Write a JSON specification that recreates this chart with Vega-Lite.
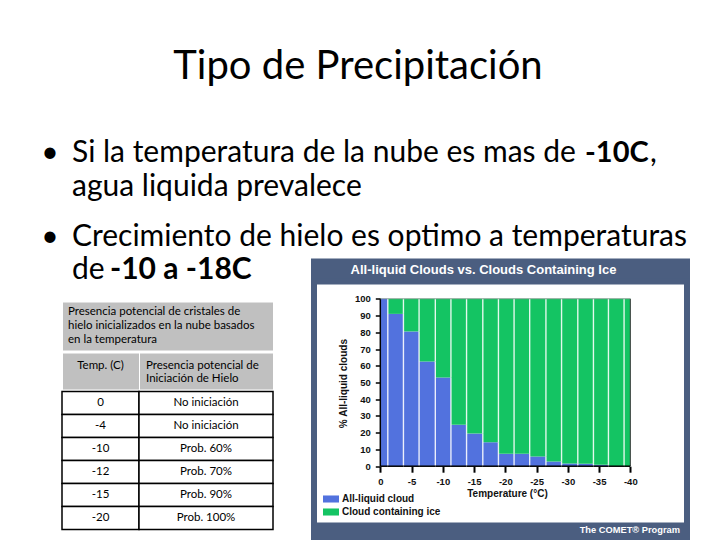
{
  "$schema": "https://vega.github.io/schema/vega-lite/v6.json",
  "padding": 0,
  "background": "white",
  "bounds": "flush",
  "spacing": 12.5,
  "config": {"view": {"stroke": null}, "text": {"font": "Lato", "fill": "black"}},
  "datasets": {
    "slide": [
      {"slot": "t", "part": "title", "txt": "Tipo de Precipitación"},
      {"slot": "b1", "part": "bullet", "txt": "•"},
      {"slot": "b2", "part": "bullet", "txt": "•"},
      {"slot": "b1", "part": "body", "txt": "Si la temperatura de la nube es mas de\nagua liquida prevalece"},
      {"slot": "b2", "part": "body", "txt": "Crecimiento de hielo es optimo a temperaturas\nde"},
      {"slot": "b1", "part": "bold", "txt": "-10C"},
      {"slot": "b1", "part": "comma", "txt": ","},
      {"slot": "b2", "part": "bold2", "txt": "-10 a -18C"}
    ],
    "table": [
      {"temp": "0", "pres": "No iniciación"},
      {"temp": "-4", "pres": "No iniciación"},
      {"temp": "-10", "pres": "Prob. 60%"},
      {"temp": "-12", "pres": "Prob. 70%"},
      {"temp": "-15", "pres": "Prob. 90%"},
      {"temp": "-20", "pres": "Prob. 100%"}
    ],
    "bars": [
      {"t0": 0, "t1": -1.2, "cloud": "All-liquid cloud", "lo": 0, "hi": 100},
      {"t0": 0, "t1": -1.2, "cloud": "Cloud containing ice", "lo": 100, "hi": 100},
      {"t0": -1.2, "t1": -3.7, "cloud": "All-liquid cloud", "lo": 0, "hi": 91},
      {"t0": -1.2, "t1": -3.7, "cloud": "Cloud containing ice", "lo": 91, "hi": 100},
      {"t0": -3.7, "t1": -6.2, "cloud": "All-liquid cloud", "lo": 0, "hi": 80.5},
      {"t0": -3.7, "t1": -6.2, "cloud": "Cloud containing ice", "lo": 80.5, "hi": 100},
      {"t0": -6.2, "t1": -8.8, "cloud": "All-liquid cloud", "lo": 0, "hi": 62.5},
      {"t0": -6.2, "t1": -8.8, "cloud": "Cloud containing ice", "lo": 62.5, "hi": 100},
      {"t0": -8.8, "t1": -11.3, "cloud": "All-liquid cloud", "lo": 0, "hi": 53},
      {"t0": -8.8, "t1": -11.3, "cloud": "Cloud containing ice", "lo": 53, "hi": 100},
      {"t0": -11.3, "t1": -13.8, "cloud": "All-liquid cloud", "lo": 0, "hi": 24.7},
      {"t0": -11.3, "t1": -13.8, "cloud": "Cloud containing ice", "lo": 24.7, "hi": 100},
      {"t0": -13.8, "t1": -16.4, "cloud": "All-liquid cloud", "lo": 0, "hi": 19.5},
      {"t0": -13.8, "t1": -16.4, "cloud": "Cloud containing ice", "lo": 19.5, "hi": 100},
      {"t0": -16.4, "t1": -18.9, "cloud": "All-liquid cloud", "lo": 0, "hi": 14.3},
      {"t0": -16.4, "t1": -18.9, "cloud": "Cloud containing ice", "lo": 14.3, "hi": 100},
      {"t0": -18.9, "t1": -21.4, "cloud": "All-liquid cloud", "lo": 0, "hi": 7.4},
      {"t0": -18.9, "t1": -21.4, "cloud": "Cloud containing ice", "lo": 7.4, "hi": 100},
      {"t0": -21.4, "t1": -23.9, "cloud": "All-liquid cloud", "lo": 0, "hi": 7.4},
      {"t0": -21.4, "t1": -23.9, "cloud": "Cloud containing ice", "lo": 7.4, "hi": 100},
      {"t0": -23.9, "t1": -26.5, "cloud": "All-liquid cloud", "lo": 0, "hi": 5.8},
      {"t0": -23.9, "t1": -26.5, "cloud": "Cloud containing ice", "lo": 5.8, "hi": 100},
      {"t0": -26.5, "t1": -29.0, "cloud": "All-liquid cloud", "lo": 0, "hi": 2.8},
      {"t0": -26.5, "t1": -29.0, "cloud": "Cloud containing ice", "lo": 2.8, "hi": 100},
      {"t0": -29.0, "t1": -31.6, "cloud": "All-liquid cloud", "lo": 0, "hi": 1.6},
      {"t0": -29.0, "t1": -31.6, "cloud": "Cloud containing ice", "lo": 1.6, "hi": 100},
      {"t0": -31.6, "t1": -34.1, "cloud": "All-liquid cloud", "lo": 0, "hi": 1.4},
      {"t0": -31.6, "t1": -34.1, "cloud": "Cloud containing ice", "lo": 1.4, "hi": 100},
      {"t0": -34.1, "t1": -36.5, "cloud": "All-liquid cloud", "lo": 0, "hi": 0.8},
      {"t0": -34.1, "t1": -36.5, "cloud": "Cloud containing ice", "lo": 0.8, "hi": 100},
      {"t0": -36.5, "t1": -39.0, "cloud": "All-liquid cloud", "lo": 0, "hi": 0},
      {"t0": -36.5, "t1": -39.0, "cloud": "Cloud containing ice", "lo": 0, "hi": 100},
      {"t0": -39.0, "t1": -40, "cloud": "All-liquid cloud", "lo": 0, "hi": 0},
      {"t0": -39.0, "t1": -40, "cloud": "Cloud containing ice", "lo": 0, "hi": 100}
    ],
    "chartTitle": [{"t": "All-liquid Clouds vs. Clouds Containing Ice"}],
    "footer": [{"t": "The COMET® Program"}],
    "h1": [{"t": "Presencia potencial de cristales de\nhielo inicializados en la nube basados\nen la temperatura"}],
    "h2": [{"c1": "Temp. (C)", "c2a": "Presencia potencial de", "c2b": "Iniciación de Hielo"}],
    "blank": [{"t": ""}]
  },
  "vconcat": [
    {
      "width": 720,
      "height": 245.5,
      "data": {"name": "slide"},
      "encoding": {
        "y": {"field": "slot", "type": "ordinal", "scale": {"type": "point", "domain": ["t", "b1", "b2"], "padding": 0.478, "align": 1}, "axis": null},
        "text": {"field": "txt", "type": "nominal"}
      },
      "layer": [
        {"transform": [{"filter": "datum.part == 'title'"}], "mark": {"type": "text", "font": "Lato", "fontSize": 40, "align": "center", "baseline": "alphabetic", "dx": -2}},
        {"transform": [{"filter": "datum.part == 'bullet'"}], "mark": {"type": "text", "font": "Lato", "fontSize": 30, "align": "center", "baseline": "alphabetic", "dx": -310}},
        {"transform": [{"filter": "datum.part == 'body'"}], "mark": {"type": "text", "font": "Lato", "fontSize": 30, "align": "left", "baseline": "alphabetic", "dx": -288, "lineBreak": "\n", "lineHeight": 33.5}},
        {"transform": [{"filter": "datum.part == 'bold'"}], "mark": {"type": "text", "font": "Lato", "fontSize": 29, "fontWeight": "bold", "align": "left", "baseline": "alphabetic", "dx": 225}},
        {"transform": [{"filter": "datum.part == 'comma'"}], "mark": {"type": "text", "font": "Lato", "fontSize": 30, "align": "left", "baseline": "alphabetic", "dx": 290}},
        {"transform": [{"filter": "datum.part == 'bold2'"}], "mark": {"type": "text", "font": "Lato", "fontSize": 30, "fontWeight": "bold", "align": "left", "baseline": "alphabetic", "dx": -250, "dy": 33.5}}
      ]
    },
    {
      "spacing": 0,
      "bounds": "full",
      "hconcat": [
        {"width": 61, "height": 1, "data": {"name": "blank"}, "mark": {"type": "text"}, "encoding": {"text": {"field": "t", "type": "nominal"}}},
        {
          "spacing": 0,
          "bounds": "full",
          "vconcat": [
            {"width": 211, "height": 42, "data": {"name": "blank"}, "mark": {"type": "text"}, "encoding": {"text": {"field": "t", "type": "nominal"}}},
            {
              "width": 211, "height": 49,
              "view": {"fill": "#c0c0c0", "stroke": "#ffffff", "strokeWidth": 1},
              "data": {"name": "h1"},
              "mark": {"type": "text", "font": "Lato", "align": "left", "baseline": "middle", "lineBreak": "\n", "lineHeight": 14, "fontSize": 11.5, "dx": -99.5, "dy": -14},
              "encoding": {"text": {"field": "t", "type": "nominal"}}
            },
            {
              "spacing": 0,
              "bounds": "flush",
              "hconcat": [
                {
                  "width": 77, "height": 37,
                  "view": {"fill": "#c0c0c0", "stroke": "#ffffff", "strokeWidth": 1},
                  "data": {"name": "h2"},
                  "mark": {"type": "text", "font": "Lato", "align": "center", "baseline": "middle", "fontSize": 11.5, "dy": -5.5},
                  "encoding": {"text": {"field": "c1", "type": "nominal"}}
                },
                {
                  "width": 134, "height": 37,
                  "view": {"fill": "#c0c0c0", "stroke": "#ffffff", "strokeWidth": 1},
                  "data": {"name": "h2"},
                  "layer": [
                    {"mark": {"type": "text", "font": "Lato", "align": "left", "baseline": "middle", "fontSize": 11.5, "dx": -60, "dy": -5.5}, "encoding": {"text": {"field": "c2a", "type": "nominal"}}},
                    {"mark": {"type": "text", "font": "Lato", "align": "left", "baseline": "middle", "fontSize": 11.5, "dx": -60, "dy": 7.5}, "encoding": {"text": {"field": "c2b", "type": "nominal"}}}
                  ]
                }
              ]
            },
            {
              "spacing": 0,
              "bounds": "flush",
              "hconcat": [
                {
                  "width": 77, "height": 138,
                  "data": {"name": "table"},
                  "encoding": {"y": {"field": "temp", "type": "nominal", "sort": null, "scale": {"paddingInner": 0, "paddingOuter": 0}, "axis": null}},
                  "layer": [
                    {"mark": {"type": "bar", "fill": "white", "stroke": "black", "strokeWidth": 1.5}},
                    {"mark": {"type": "text", "font": "Lato", "fontSize": 11.5, "baseline": "middle"}, "encoding": {"text": {"field": "temp", "type": "nominal"}}}
                  ]
                },
                {
                  "width": 134, "height": 138,
                  "data": {"name": "table"},
                  "encoding": {"y": {"field": "temp", "type": "nominal", "sort": null, "scale": {"paddingInner": 0, "paddingOuter": 0}, "axis": null}},
                  "layer": [
                    {"mark": {"type": "bar", "fill": "white", "stroke": "black", "strokeWidth": 1.5}},
                    {"mark": {"type": "text", "font": "Lato", "fontSize": 11.5, "baseline": "middle"}, "encoding": {"text": {"field": "pres", "type": "nominal"}}}
                  ]
                }
              ]
            }
          ]
        },
        {"width": 36.5, "height": 1, "data": {"name": "blank"}, "mark": {"type": "text"}, "encoding": {"text": {"field": "t", "type": "nominal"}}},
        {
          "spacing": 0,
          "bounds": "flush",
          "center": true,
          "vconcat": [
            {
              "width": 379, "height": 23,
              "view": {"fill": "#4b5e80", "stroke": null},
              "data": {"name": "chartTitle"},
              "mark": {"type": "text", "fill": "white", "font": "Liberation Sans", "fontWeight": "bold", "fontSize": 13, "align": "center", "baseline": "middle", "dx": -17},
              "encoding": {"text": {"field": "t", "type": "nominal"}}
            },
            {
              "width": 373, "height": 244,
              "view": {"fill": "white", "stroke": "#4b5e80", "strokeWidth": 6},
              "data": {"name": "bars"},
              "encoding": {
                "x": {"field": "t0", "type": "quantitative", "scale": {"domain": [10.61, -49.07], "nice": false, "zero": false},
                  "axis": {"values": [0, -5, -10, -15, -20, -25, -30, -35, -40], "offset": -59.3, "domain": false, "grid": false, "ticks": true, "tickSize": 6, "tickWidth": 2, "tickColor": "black",
                    "labelExpr": "datum.value == 0 ? '0' : '-' + abs(datum.value)", "labelFont": "Liberation Sans", "labelFontSize": 9.5, "labelFontWeight": "bold", "labelColor": "#111", "labelPadding": 4,
                    "title": "Temperature (°C)", "titleFont": "Liberation Sans", "titleFontSize": 10, "titleFontWeight": "bold", "titleColor": "#111", "titlePadding": 3, "titleX": 193}},
                "y": {"field": "lo", "type": "quantitative", "scale": {"domain": [-35.42, 110.33], "nice": false, "zero": false},
                  "axis": {"values": [0, 10, 20, 30, 40, 50, 60, 70, 80, 90, 100], "offset": -66.3, "domain": false, "grid": false, "ticks": true, "tickSize": 5, "tickWidth": 1.5, "tickColor": "black",
                    "labelFont": "Liberation Sans", "labelFontSize": 9.5, "labelFontWeight": "bold", "labelColor": "#111", "labelPadding": 5,
                    "title": "% All-liquid clouds", "titleFont": "Liberation Sans", "titleFontSize": 10, "titleFontWeight": "bold", "titleColor": "#111", "titlePadding": 6, "titleY": 101.6}}
              },
              "layer": [
                {
                  "mark": {"type": "rect"},
                  "encoding": {
                    "x2": {"field": "t1"},
                    "y2": {"field": "hi"},
                    "color": {"field": "cloud", "type": "nominal",
                      "scale": {"domain": ["All-liquid cloud", "Cloud containing ice"], "range": ["#5272de", "#14c463"]},
                      "legend": {"orient": "none", "legendX": 323, "legendY": 491, "title": null, "symbolType": "M-1,-0.44H1V0.44H-1Z", "symbolSize": 256, "symbolStrokeWidth": 0, "symbolOpacity": 1,
                        "labelFont": "Liberation Sans", "labelFontSize": 10, "labelFontWeight": "bold", "labelColor": "#111", "labelOffset": 3, "rowPadding": 0, "padding": 0}}
                  }
                },
                {
                  "transform": [{"filter": "datum.t1 > -40"}],
                  "mark": {"type": "rule", "color": "white", "strokeWidth": 1.4, "opacity": 0.85},
                  "encoding": {
                    "x": {"field": "t1", "type": "quantitative", "scale": {"domain": [10.61, -49.07], "nice": false, "zero": false},
                      "axis": {"values": [0, -5, -10, -15, -20, -25, -30, -35, -40], "offset": -59.3, "domain": false, "grid": false, "ticks": true, "tickSize": 6, "tickWidth": 2, "tickColor": "black",
                        "labelExpr": "datum.value == 0 ? '0' : '-' + abs(datum.value)", "labelFont": "Liberation Sans", "labelFontSize": 9.5, "labelFontWeight": "bold", "labelColor": "#111", "labelPadding": 4,
                        "title": "Temperature (°C)", "titleFont": "Liberation Sans", "titleFontSize": 10, "titleFontWeight": "bold", "titleColor": "#111", "titlePadding": 3, "titleX": 193}},
                    "y2": {"field": "hi"}
                  }
                },
                {
                  "transform": [{"filter": "datum.t0 == 0"}],
                  "mark": {"type": "rule", "color": "black", "strokeWidth": 1.5},
                  "encoding": {"y2": {"field": "hi"}}
                },
                {
                  "transform": [{"filter": "datum.t1 == -40"}],
                  "mark": {"type": "rule", "color": "#333333", "strokeWidth": 1},
                  "encoding": {
                    "x": {"field": "t1", "type": "quantitative", "scale": {"domain": [10.61, -49.07], "nice": false, "zero": false},
                      "axis": {"values": [0, -5, -10, -15, -20, -25, -30, -35, -40], "offset": -59.3, "domain": false, "grid": false, "ticks": true, "tickSize": 6, "tickWidth": 2, "tickColor": "black",
                        "labelExpr": "datum.value == 0 ? '0' : '-' + abs(datum.value)", "labelFont": "Liberation Sans", "labelFontSize": 9.5, "labelFontWeight": "bold", "labelColor": "#111", "labelPadding": 4,
                        "title": "Temperature (°C)", "titleFont": "Liberation Sans", "titleFontSize": 10, "titleFontWeight": "bold", "titleColor": "#111", "titlePadding": 3, "titleX": 193}},
                    "y2": {"field": "hi"}
                  }
                },
                {
                  "transform": [{"filter": "datum.cloud == 'All-liquid cloud'"}],
                  "mark": {"type": "rule", "color": "black", "strokeWidth": 1.5},
                  "encoding": {"x2": {"field": "t1"}}
                },
                {
                  "transform": [{"filter": "datum.cloud == 'Cloud containing ice'"}],
                  "mark": {"type": "rule", "color": "#7a8a80", "strokeWidth": 0.8},
                  "encoding": {
                    "y": {"field": "hi", "type": "quantitative", "scale": {"domain": [-35.42, 110.33], "nice": false, "zero": false},
                      "axis": {"values": [0, 10, 20, 30, 40, 50, 60, 70, 80, 90, 100], "offset": -66.3, "domain": false, "grid": false, "ticks": true, "tickSize": 5, "tickWidth": 1.5, "tickColor": "black",
                        "labelFont": "Liberation Sans", "labelFontSize": 9.5, "labelFontWeight": "bold", "labelColor": "#111", "labelPadding": 5,
                        "title": "% All-liquid clouds", "titleFont": "Liberation Sans", "titleFontSize": 10, "titleFontWeight": "bold", "titleColor": "#111", "titlePadding": 6, "titleY": 101.6}},
                    "x2": {"field": "t1"}
                  }
                }
              ]
            },
            {
              "width": 379, "height": 15,
              "view": {"fill": "#4b5e80", "stroke": null},
              "data": {"name": "footer"},
              "mark": {"type": "text", "fill": "white", "font": "Liberation Sans", "fontWeight": "bold", "fontSize": 9.3, "align": "right", "baseline": "middle", "dx": 179.5, "dy": -3},
              "encoding": {"text": {"field": "t", "type": "nominal"}}
            }
          ]
        }
      ]
    }
  ]
}
